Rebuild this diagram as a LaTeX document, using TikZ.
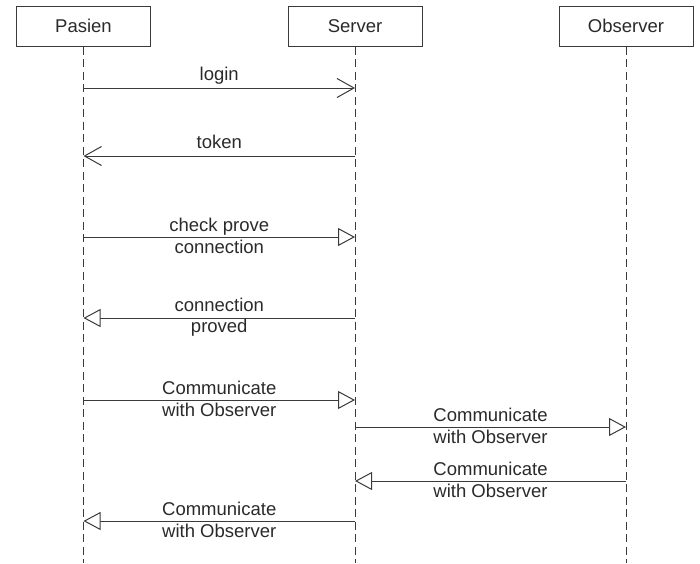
\documentclass[tikz,border=0pt]{standalone}
\usepackage{fontspec}
\setmainfont{Liberation Sans}
\usetikzlibrary{arrows.meta}
\definecolor{ln}{HTML}{3A3A3A}
\definecolor{tx}{HTML}{2A2A2A}
\begin{document}
\begin{tikzpicture}[x=1pt, y=-1pt, line width=1pt,
  txt/.style={font=\fontsize{18.5}{21.5}\selectfont, text=tx},
  actor/.style={txt, draw=ln, fill=white, minimum width=134pt, minimum height=40pt, inner sep=0pt},
  lifeline/.style={draw=ln, dash pattern=on 8pt off 4.5pt},
  syncmsg/.style={draw=ln, -{Straight Barb[length=17pt, width=19pt, line width=1pt]}},
  asyncmsg/.style={draw=ln, -{Triangle[open, length=17pt, width=18pt, fill=white, line width=1pt]}},
  onelbl/.style={txt, midway, anchor=base, yshift=7.5pt, inner sep=0pt},
  twolbl/.style={txt, midway, anchor=center, align=center, inner sep=0pt, yshift=1pt}]
\useasboundingbox (0,0) rectangle (700,563);

% participants
\node[actor] (P) at (83.5,26) {Pasien};
\node[actor] (S) at (355,26) {Server};
\node[actor] (O) at (626,26) {Observer};

% lifelines down to the bottom edge
\coordinate (bottom) at (0,563);
\draw[lifeline] (P.south) -- (P.south |- bottom);
\draw[lifeline] (S.south) -- (S.south |- bottom);
\draw[lifeline] (O.south) -- (O.south |- bottom);

% message rows
\coordinate (r1) at (0,88);
\coordinate (r2) at (0,156);
\coordinate (r3) at (0,237);
\coordinate (r4) at (0,318);
\coordinate (r5) at (0,400);
\coordinate (r6) at (0,427);
\coordinate (r7) at (0,481);
\coordinate (r8) at (0,521);

\draw[syncmsg] (P |- r1) -- (S |- r1) node[onelbl] {login};
\draw[syncmsg] (S |- r2) -- (P |- r2) node[onelbl] {token};
\draw[asyncmsg] (P |- r3) -- (S |- r3) node[twolbl] {check prove\\connection};
\draw[asyncmsg] (S |- r4) -- (P |- r4) node[twolbl] {connection\\proved};
\draw[asyncmsg] (P |- r5) -- (S |- r5) node[twolbl] {Communicate\\with Observer};
\draw[asyncmsg] (S |- r6) -- (O |- r6) node[twolbl] {Communicate\\with Observer};
\draw[asyncmsg] (O |- r7) -- (S |- r7) node[twolbl] {Communicate\\with Observer};
\draw[asyncmsg] (S |- r8) -- (P |- r8) node[twolbl] {Communicate\\with Observer};
\end{tikzpicture}
\end{document}
